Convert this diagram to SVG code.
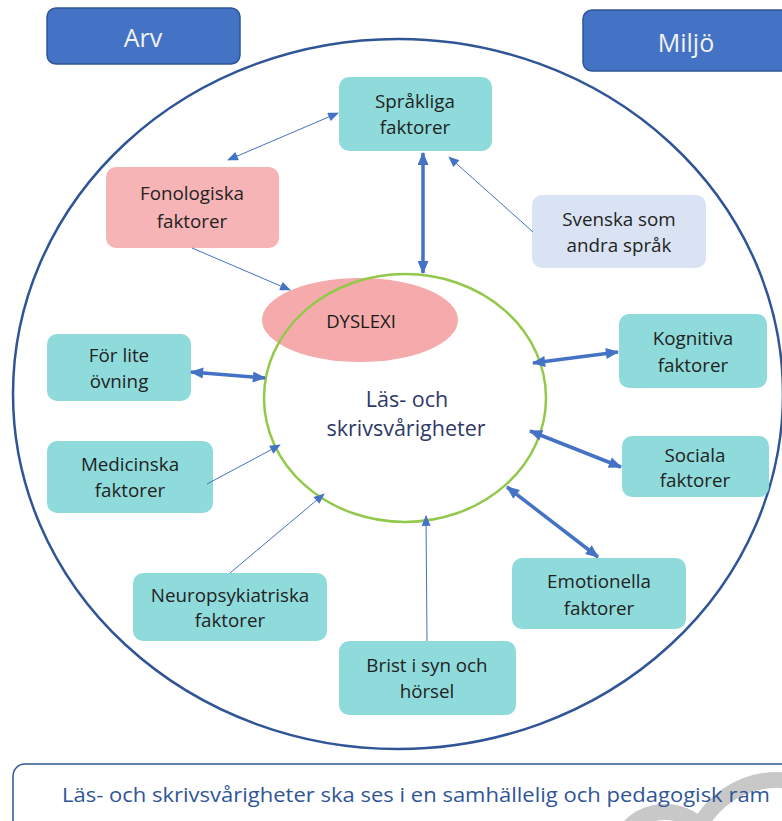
<svg xmlns="http://www.w3.org/2000/svg" width="782" height="821" viewBox="0 0 782 821">
<style>
text{font-family:"Open Sans","Noto Sans","Liberation Sans",sans-serif;}
.node{fill:#8FDBDB;}
.lbl{font-size:18.8px;fill:#222;text-anchor:middle;}
.thin{stroke:#4472C4;stroke-width:1;fill:none;}
.thick{stroke:#4472C4;stroke-width:3.5;fill:none;}
.hdr{fill:#4472C4;stroke:#2F5597;stroke-width:1.5;}
.hdrt{font-size:25px;fill:#F2F2F2;text-anchor:middle;}
</style>
<defs>
<marker id="ah" viewBox="0 0 12 10" refX="11" refY="5" markerWidth="12" markerHeight="9" markerUnits="userSpaceOnUse" orient="auto-start-reverse">
<path d="M0,0 L12,5 L0,10 z" fill="#4472C4"/>
</marker>
<marker id="ahb" viewBox="0 0 12 10" refX="11" refY="5" markerWidth="14" markerHeight="11" markerUnits="userSpaceOnUse" orient="auto-start-reverse">
<path d="M0,0 L12,5 L0,10 z" fill="#4472C4"/>
</marker>
</defs>
<rect width="782" height="821" fill="#FFFFFF"/>

<g id="outer">
<ellipse cx="398" cy="394" rx="385" ry="355" fill="none" stroke="#2F5597" stroke-width="2.5"/>
</g>

<g id="arv">
<rect class="hdr" x="47" y="8" width="193" height="56" rx="9"/>
<text class="hdrt" x="143" y="47">Arv</text>
</g>
<g id="miljo">
<rect class="hdr" x="583" y="10" width="210" height="61" rx="9"/>
<text class="hdrt" x="686" y="52">Miljö</text>
</g>

<g id="dyslexi">
<ellipse cx="360" cy="320" rx="98" ry="42" fill="#F5ABAB"/>
</g>
<g id="center">
<ellipse cx="405" cy="398" rx="141" ry="124" fill="none" stroke="#92C94A" stroke-width="2.5"/>
<text x="407" y="407" font-size="21.5" fill="#2E3A68" text-anchor="middle">Läs- och</text>
<text x="406" y="436" font-size="21.5" fill="#2E3A68" text-anchor="middle">skrivsvårigheter</text>
</g>
<g id="dyslexi-label">
<text x="361" y="328" font-size="18.5" fill="#1A1A1A" text-anchor="middle">DYSLEXI</text>
</g>

<g id="sprakliga">
<rect class="node" x="339" y="77" width="153" height="74" rx="10"/>
<text class="lbl" x="415" y="108">Språkliga</text>
<text class="lbl" x="415" y="134">faktorer</text>
</g>
<g id="fonologiska">
<rect x="106" y="167" width="173" height="81" rx="10" fill="#F7B4B6"/>
<text class="lbl" x="192" y="200">Fonologiska</text>
<text class="lbl" x="192" y="228">faktorer</text>
</g>
<g id="svenska">
<rect x="532" y="195" width="174" height="73" rx="10" fill="#DAE3F3"/>
<text class="lbl" x="619" y="226">Svenska som</text>
<text class="lbl" x="619" y="252">andra språk</text>
</g>
<g id="kognitiva">
<rect class="node" x="619" y="314" width="148" height="74" rx="10"/>
<text class="lbl" x="693" y="345">Kognitiva</text>
<text class="lbl" x="693" y="372">faktorer</text>
</g>
<g id="sociala">
<rect class="node" x="622" y="436" width="147" height="61" rx="10"/>
<text class="lbl" x="695" y="462">Sociala</text>
<text class="lbl" x="695" y="487">faktorer</text>
</g>
<g id="forlite">
<rect class="node" x="47" y="334" width="144" height="67" rx="10"/>
<text class="lbl" x="119" y="362">För lite</text>
<text class="lbl" x="119" y="388">övning</text>
</g>
<g id="medicinska">
<rect class="node" x="47" y="441" width="166" height="72" rx="10"/>
<text class="lbl" x="130" y="471">Medicinska</text>
<text class="lbl" x="130" y="497">faktorer</text>
</g>
<g id="neuro">
<rect class="node" x="133" y="573" width="194" height="68" rx="10"/>
<text class="lbl" x="230" y="602">Neuropsykiatriska</text>
<text class="lbl" x="230" y="627">faktorer</text>
</g>
<g id="emotionella">
<rect class="node" x="512" y="558" width="174" height="71" rx="10"/>
<text class="lbl" x="599" y="588">Emotionella</text>
<text class="lbl" x="599" y="615">faktorer</text>
</g>
<g id="brist">
<rect class="node" x="339" y="641" width="177" height="74" rx="10"/>
<text class="lbl" x="427" y="672">Brist i syn och</text>
<text class="lbl" x="427" y="698">hörsel</text>
</g>

<g id="connectors">
<line class="thin" x1="228" y1="160" x2="338" y2="113" marker-start="url(#ah)" marker-end="url(#ah)"/>
<line class="thick" x1="423" y1="153" x2="423" y2="273" marker-start="url(#ahb)" marker-end="url(#ahb)"/>
<line class="thin" x1="533" y1="232" x2="449" y2="157" marker-end="url(#ah)"/>
<line class="thin" x1="192" y1="248" x2="290" y2="290" marker-end="url(#ah)"/>
<line class="thick" x1="191" y1="372" x2="265" y2="378" marker-start="url(#ahb)" marker-end="url(#ahb)"/>
<line class="thin" x1="207" y1="484" x2="280" y2="445" marker-end="url(#ah)"/>
<line class="thin" x1="230" y1="573" x2="324" y2="494" marker-end="url(#ah)"/>
<line class="thin" x1="427" y1="641" x2="426" y2="516" marker-end="url(#ah)"/>
<line class="thick" x1="507" y1="487" x2="598" y2="557" marker-start="url(#ahb)" marker-end="url(#ahb)"/>
<line class="thick" x1="530" y1="431" x2="621" y2="467" marker-start="url(#ahb)" marker-end="url(#ahb)"/>
<line class="thick" x1="533" y1="363" x2="618" y2="352" marker-start="url(#ahb)" marker-end="url(#ahb)"/>
</g>

<g id="banner">
<rect x="13" y="764" width="800" height="80" rx="12" fill="#FFFFFF" stroke="#2F5597" stroke-width="1.5"/>
<circle cx="665" cy="862" r="50" fill="none" stroke="#C8C8C8" stroke-width="16"/>
<circle cx="777" cy="868" r="88" fill="none" stroke="#C8C8C8" stroke-width="16"/>
<text x="62" y="802" font-size="20.5" fill="#2F5597" textLength="708" lengthAdjust="spacingAndGlyphs">Läs- och skrivsvårigheter ska ses i en samhällelig och pedagogisk ram</text>
</g>
</svg>
